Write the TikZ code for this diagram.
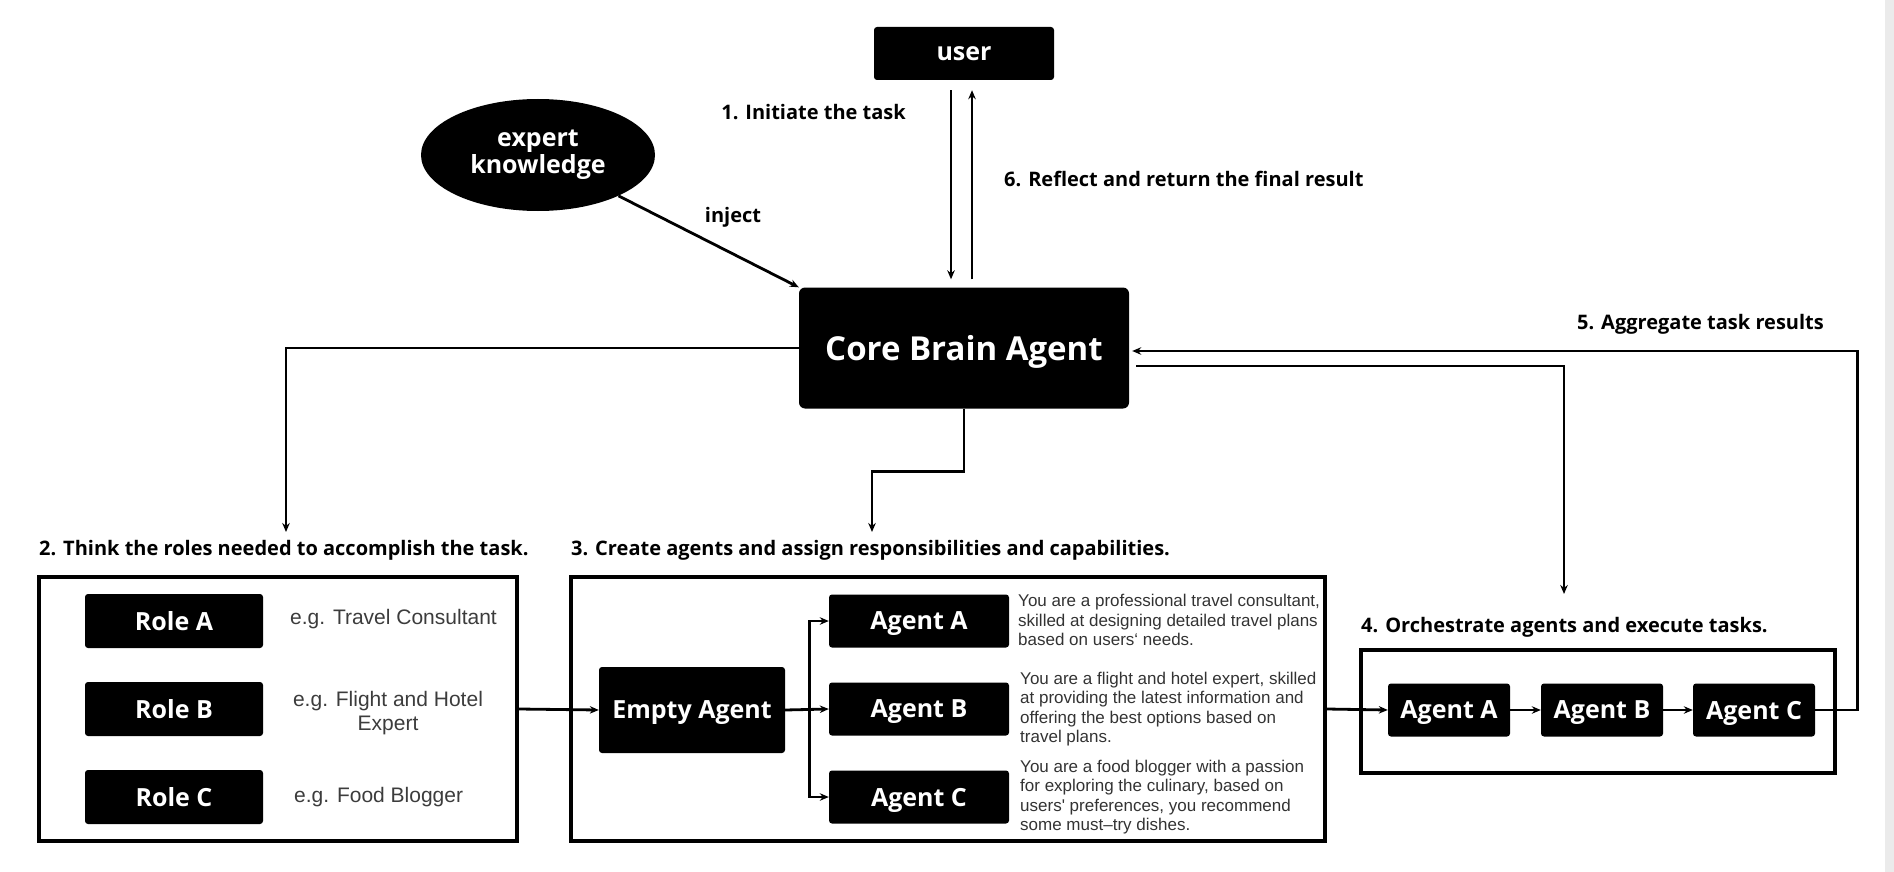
\documentclass[tikz,border=0pt]{standalone}
\usepackage{fontspec}
\setmainfont{Open Sans}
\newfontfamily\descfont{Liberation Sans}
\usetikzlibrary{arrows.meta, positioning, shapes.geometric}
\definecolor{desctext}{HTML}{333333}
\definecolor{egtext}{HTML}{3C3C3C}
\definecolor{edgegray}{HTML}{EBEBEB}

\begin{document}
\begin{tikzpicture}[
        x=1pt, y=-1pt, >={Stealth[length=9pt,width=7.5pt]},
        blk/.style={fill=black, text=white, rounded corners=3, inner sep=0, text depth=0pt,
          font=\bfseries\fontsize{25}{30}\selectfont},
        frame/.style={draw, line width=3.5, inner sep=0},
        conn/.style={->, line width=2.8},
        steplabel/.style={inner sep=0, font=\bfseries\fontsize{20}{24}\selectfont},
        desc/.style={anchor=west, inner sep=0, align=left, text=desctext,
          font=\descfont\fontsize{17}{19.5}\selectfont},
        eg/.style={inner sep=0, align=center, text=egtext,
          font=\descfont\fontsize{21}{24}\selectfont},
        ]
        \useasboundingbox (0,0) rectangle (1894,872);
        \fill[edgegray] (1885,0) rectangle (1894,872);

        \node[blk, minimum width=180, minimum height=53] (user) at (964,53.5) {user};
        \node[blk, rounded corners=6, minimum width=330, minimum height=121,
          font=\bfseries\fontsize{33}{40}\selectfont] (core) at (964,348) {Core Brain Agent};
        \node[ellipse, fill=black, text=white, inner sep=0, minimum width=234, minimum height=112,
          align=center, font=\bfseries\fontsize{25}{27}\selectfont] (expert) at (538,155) {expert\\knowledge};

        \node[steplabel, anchor=east] (initiate) at (906,112) {1. Initiate the task};
        \node[steplabel, anchor=west] (reflect) at (1004,179) {6. Reflect and return the final result};
        \node[steplabel] (inject) at (733,217) {inject};
        \node[steplabel, anchor=east] (aggregate) at (1824,324) {5. Aggregate task results};

        % roles
        \node[steplabel, anchor=west] (thinklbl) at (39,550) {2. Think the roles needed to accomplish the task.};
        \node[frame, minimum width=478, minimum height=264] (roles) at (278,709) {};
        \node[blk, minimum width=178, minimum height=54] (roleA) at (174,621) {Role A};
        \node[blk, minimum width=178, minimum height=54] (roleB) at (174,709) {Role B};
        \node[blk, minimum width=178, minimum height=54] (roleC) at (174,797) {Role C};
        \node[eg, anchor=west] (egA) at (290,619) {e.g. Travel Consultant};
        \node[eg] (egB) at (388,713) {e.g. Flight and Hotel\\Expert};
        \node[eg, anchor=west] (egC) at (294,797) {e.g. Food Blogger};

        % agents
        \node[steplabel, anchor=west] (createlbl) at (571,550) {3. Create agents and assign responsibilities and capabilities.};
        \node[frame, minimum width=754, minimum height=264] (create) at (948,709) {};
        \node[blk, minimum width=186, minimum height=86] (empty) at (692,710) {Empty Agent};
        \node[blk, minimum width=180, minimum height=53] (agA) at (919,621) {Agent A};
        \node[blk, minimum width=180, minimum height=53] (agB) at (919,709) {Agent B};
        \node[blk, minimum width=180, minimum height=53] (agC) at (919,797) {Agent C};
        \node[desc] (descA) at (1018,620) {You are a professional travel consultant,\\skilled at designing detailed travel plans\\based on users‘ needs.};
        \node[desc] (descB) at (1020,709) {You are a flight and hotel expert, skilled\\at providing the latest information and\\offering the best options based on\\travel plans.};
        \node[desc] (descC) at (1020,797) {You are a food blogger with a passion\\for exploring the culinary, based on\\users' preferences, you recommend\\some must–try dishes.};

        % orchestration
        \node[steplabel, anchor=west] (orchlbl) at (1361,627) {4. Orchestrate agents and execute tasks.};
        \node[frame, minimum width=474, minimum height=123] (orch) at (1598,711.5) {};
        \node[blk, minimum width=122, minimum height=53] (orA) at (1449,710) {Agent A};
        \node[blk, minimum width=122, minimum height=53] (orB) at (1602,710) {Agent B};
        \node[blk, minimum width=122, minimum height=53] (orC) at (1754,710) {Agent C};

        \coordinate (rolein) at (286,532);
        \coordinate (agentin) at (872,532);
        \coordinate (orchin) at (1564,594);

        \draw[conn, shorten <=10, shorten >=8] ([xshift=-13]user.south) -- ([xshift=-13]core.north);
        \draw[conn, shorten <=8, shorten >=10] ([xshift=8]core.north) -- ([xshift=8]user.south);
        \draw[conn] (expert) -- (core.north west);
        \draw[conn] (core.west) -| (rolein);
        \draw[conn] (core.south) -- ++(0,63) -| (agentin);
        \draw[conn, shorten <=7] ([yshift=-18]core.east) -| (orchin);
        \draw[conn, shorten >=3] (orC.east) -- ++(42,0) |- ([yshift=-3]core.east);

        \draw[conn] (roles.east) -- (empty.west);
        \draw[conn] (empty.east) -- ++(24,0) |- (agA.west);
        \draw[conn] (empty.east) -- (agB.west);
        \draw[conn] (empty.east) -- ++(24,0) |- (agC.west);
        \draw[conn] (create.east) -- (orA.west);
        \draw[conn] (orA) -- (orB);
        \draw[conn] (orB) -- (orC);
      \end{tikzpicture}
\end{document}
